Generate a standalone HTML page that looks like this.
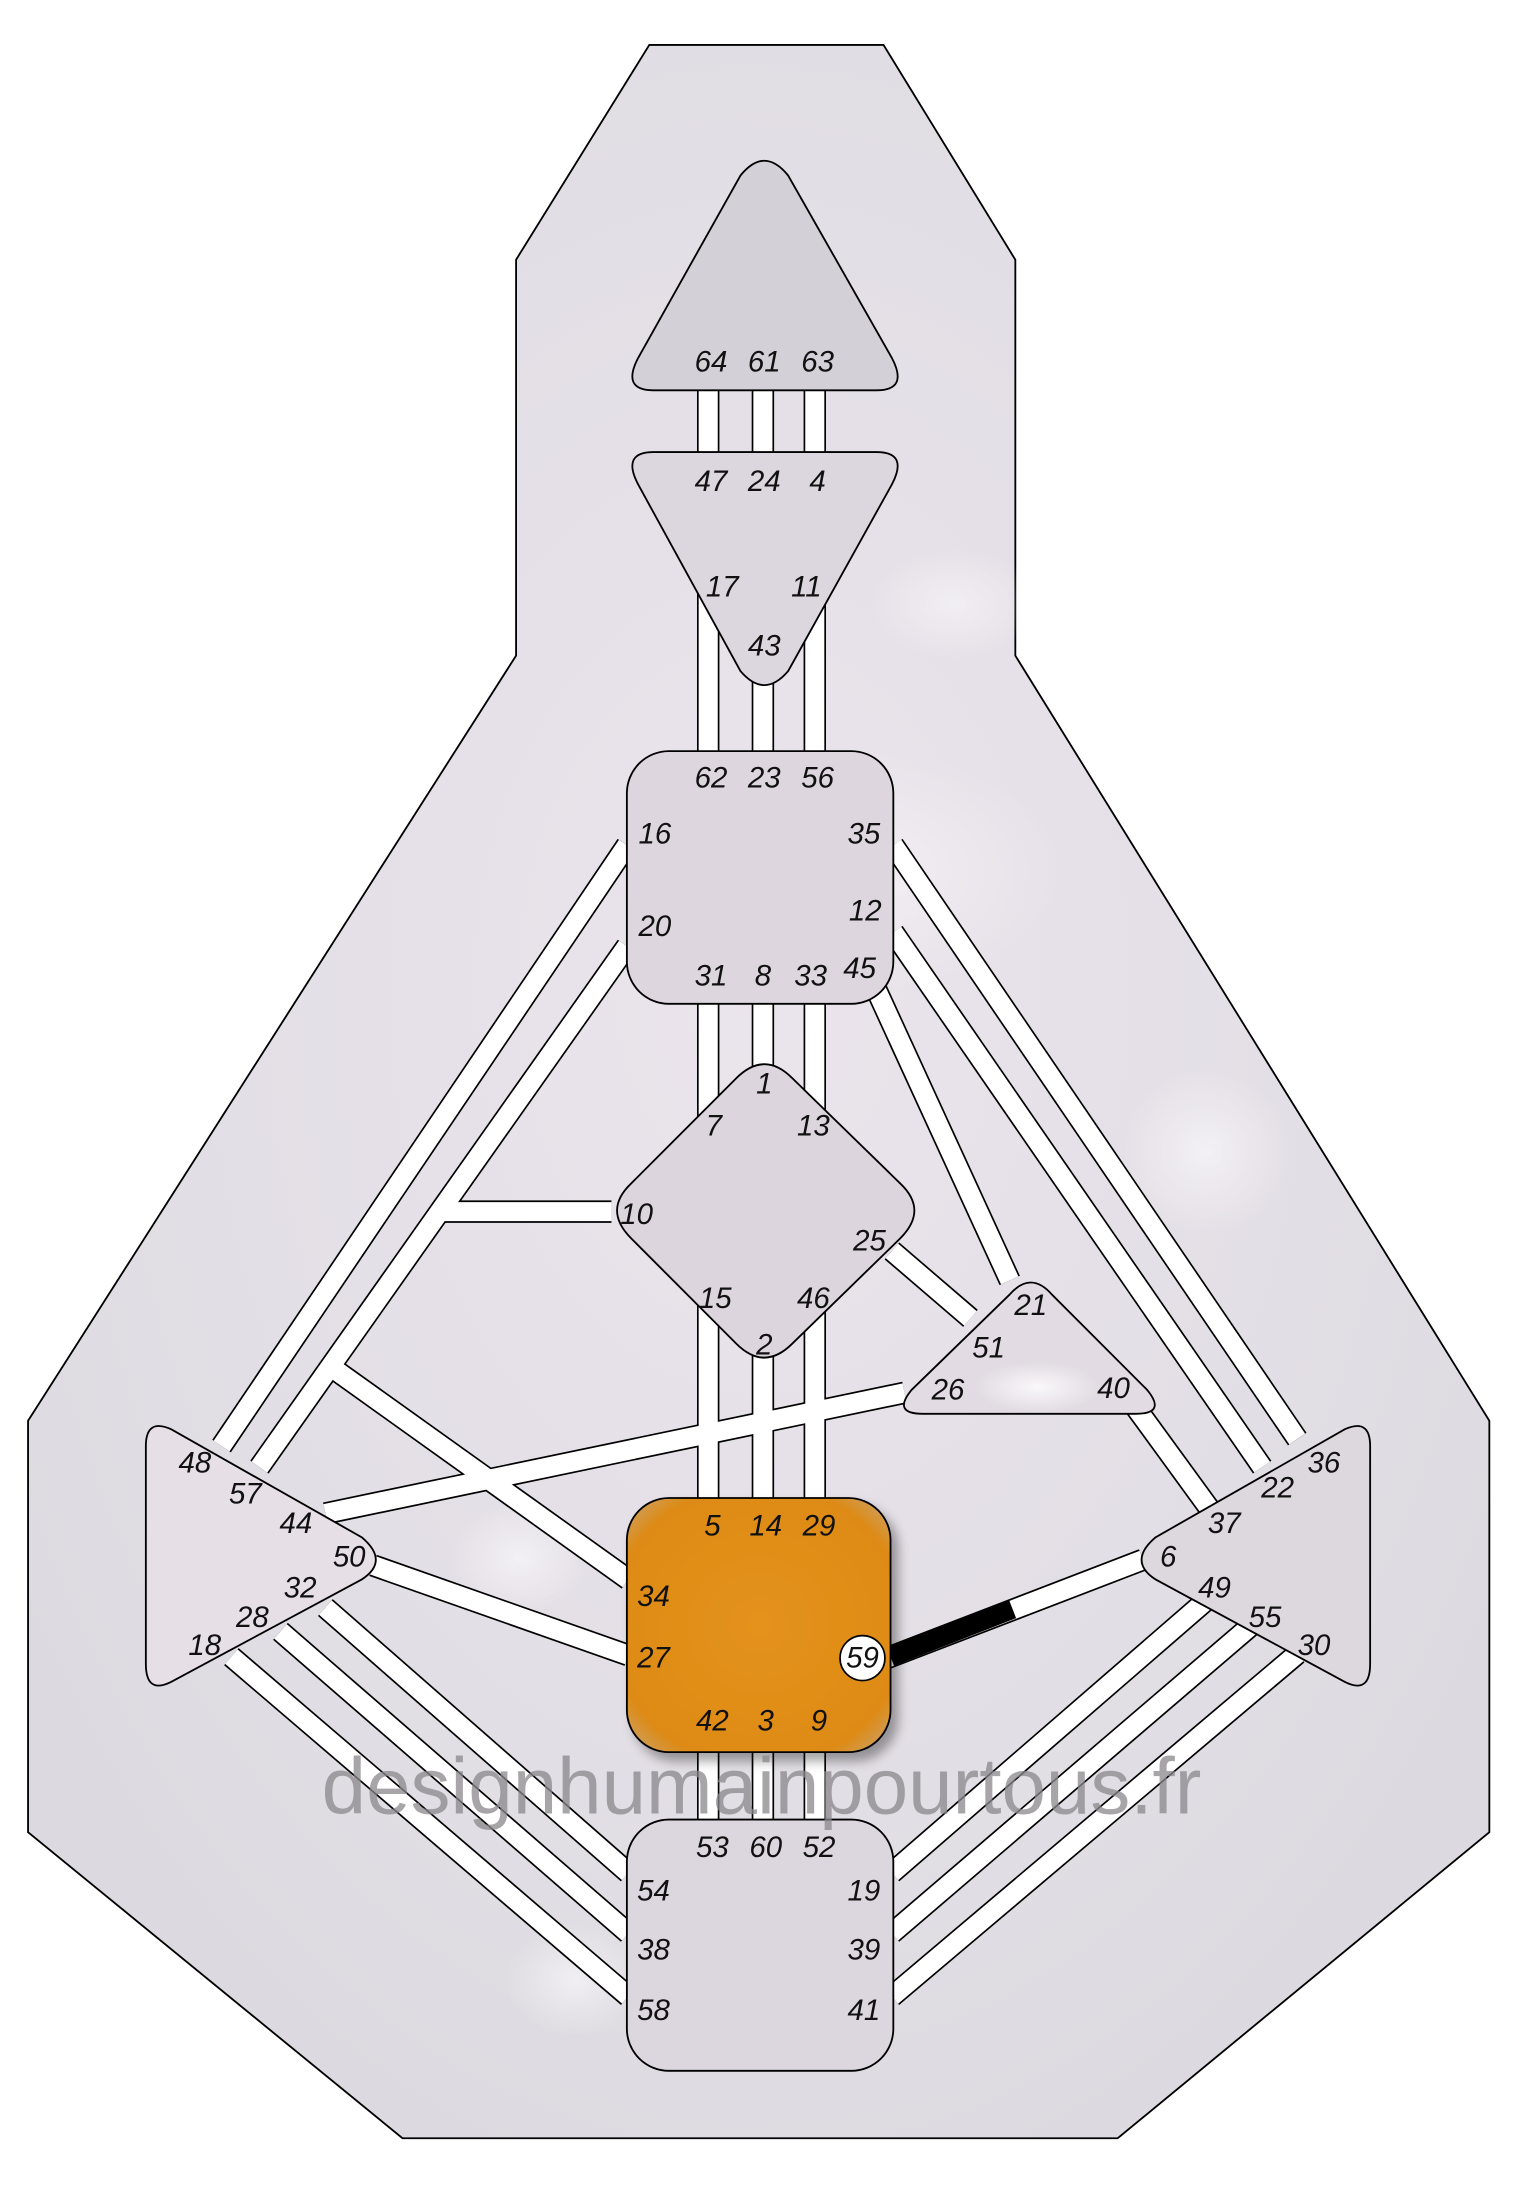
<!DOCTYPE html>
<html><head><meta charset="utf-8"><style>
html,body{margin:0;padding:0;background:#fff}
svg{display:block}
text{font-family:"Liberation Sans","DejaVu Sans",sans-serif;font-style:italic;font-size:21px;fill:#111;text-anchor:middle;dominant-baseline:central}
</style></head><body>
<svg width="1523" height="2200" viewBox="0 0 1086 1567" preserveAspectRatio="none" xmlns="http://www.w3.org/2000/svg">
<defs>
<radialGradient id="bg" cx="0.5" cy="0.45" r="0.6">
<stop offset="0" stop-color="#ebe4ec"/><stop offset="0.6" stop-color="#e3dfe6"/><stop offset="1" stop-color="#dcdae0"/></radialGradient>
<radialGradient id="glow" cx="0.5" cy="0.5" r="0.5"><stop offset="0" stop-color="#fff" stop-opacity="0.9"/><stop offset="1" stop-color="#fff" stop-opacity="0"/></radialGradient>
<radialGradient id="orng" cx="0.5" cy="0.5" r="0.7"><stop offset="0" stop-color="#e4921c"/><stop offset="0.8" stop-color="#dd8b16"/><stop offset="1" stop-color="#c9a472"/></radialGradient>
<filter id="sh" x="-20%" y="-20%" width="150%" height="150%"><feDropShadow dx="5" dy="6" stdDeviation="4" flood-color="#000" flood-opacity="0.35"/></filter>
<g id="ch" fill="none">
<line x1="505" y1="278" x2="505" y2="540"/><line x1="544" y1="278" x2="544" y2="540"/><line x1="581" y1="278" x2="581" y2="540"/>
<line x1="505" y1="710" x2="505" y2="1070"/><line x1="544" y1="710" x2="544" y2="1070"/><line x1="581" y1="710" x2="581" y2="1070"/>
<line x1="505" y1="1245" x2="505" y2="1300"/><line x1="544" y1="1245" x2="544" y2="1300"/><line x1="581" y1="1245" x2="581" y2="1300"/>
<line x1="447" y1="602" x2="158" y2="1030"/>
<line x1="447" y1="674" x2="185" y2="1045"/>
<line x1="312" y1="863" x2="436" y2="863"/>
<line x1="238" y1="975" x2="448" y2="1125"/>
<line x1="645" y1="992" x2="232" y2="1078"/>
<line x1="266" y1="1115" x2="448" y2="1179"/>
<line x1="637" y1="602" x2="925" y2="1025"/>
<line x1="637" y1="664" x2="900" y2="1045"/>
<line x1="624" y1="703" x2="720" y2="912"/>
<line x1="636" y1="891" x2="692" y2="939"/>
<line x1="808" y1="1000" x2="862" y2="1074"/>
<line x1="232" y1="1145" x2="448" y2="1334"/>
<line x1="200" y1="1162" x2="448" y2="1377"/>
<line x1="165" y1="1180" x2="448" y2="1422"/>
<line x1="860" y1="1140" x2="636" y2="1334"/>
<line x1="892" y1="1158" x2="636" y2="1377"/>
<line x1="925" y1="1178" x2="636" y2="1422"/>
<line x1="630" y1="1182" x2="815" y2="1111"/>
</g>
</defs>
<polygon points="463,32 630,32 724,185 724,467 1062,1012 1062,1305 797,1523 287,1523 20,1305 20,1012 368,467 368,185" fill="url(#bg)" stroke="#000" stroke-width="1.3"/>
<ellipse cx="600" cy="620" rx="160" ry="90" fill="url(#glow)" opacity="0.5"/>
<ellipse cx="860" cy="820" rx="60" ry="60" fill="url(#glow)" opacity="0.6"/>
<ellipse cx="370" cy="1110" rx="50" ry="40" fill="url(#glow)" opacity="0.6"/>
<ellipse cx="410" cy="1410" rx="50" ry="40" fill="url(#glow)" opacity="0.6"/>
<ellipse cx="680" cy="430" rx="60" ry="40" fill="url(#glow)" opacity="0.5"/>
<use href="#ch" stroke="#000" stroke-width="16"/>
<use href="#ch" stroke="#fff" stroke-width="13.6"/>
<line x1="635" y1="1180" x2="722" y2="1146" stroke="#000" stroke-width="14"/>
<g stroke="#000" stroke-width="1.3" fill="#dcd6de">
<path d="M528,125 Q545,104 562,125 L636,255 Q648,278 625,278 L466,278 Q443,278 455,255 Z" fill="#d3d0d7"/>
<path d="M466,322 L625,322 Q648,322 636,345 L562,478 Q545,498 528,478 L455,345 Q443,322 466,322 Z" fill="#dcd6de"/>
<rect x="447" y="535" width="190" height="180" rx="30" fill="#ddd6de"/>
<path d="M525,768 Q545,748 565,768 L642,843 Q662,862 642,882 L565,957 Q545,977 525,957 L450,882 Q430,862 450,843 Z" fill="#dcd5dd"/>
<path d="M720,922 Q735,905 750,922 L818,990 Q832,1007 810,1007 L658,1007 Q636,1007 650,990 Z" fill="#e2dbe3"/>
<rect x="447" y="1296" width="190" height="179" rx="30" fill="#dcd6de"/>
<path d="M104,1030 Q104,1010 122,1018 L258,1095 Q278,1112 258,1125 L122,1198 Q104,1207 104,1185 Z" fill="#e6dfe6"/>
<path d="M977,1030 Q977,1010 959,1018 L824,1095 Q804,1112 824,1125 L959,1198 Q977,1207 977,1185 Z" fill="#ddd7de"/>
<rect x="447" y="1067" width="188" height="181" rx="30" fill="url(#orng)" filter="url(#sh)"/>
</g>
<ellipse cx="740" cy="988" rx="45" ry="18" fill="url(#glow)" opacity="0.9"/>
<circle cx="615" cy="1181" r="16" fill="#fff" stroke="#000" stroke-width="1.2"/>
<text x="543" y="1272" style="font-style:normal;font-size:57px;fill:#8a888c;opacity:0.75">designhumainpourtous.fr</text>
<g>
<text x="507" y="258">64</text><text x="545" y="258">61</text><text x="583" y="258">63</text>
<text x="507" y="343">47</text><text x="545" y="343">24</text><text x="583" y="343">4</text>
<text x="515" y="418">17</text><text x="575" y="418">11</text><text x="545" y="460">43</text>
<text x="507" y="554">62</text><text x="545" y="554">23</text><text x="583" y="554">56</text>
<text x="467" y="594">16</text><text x="616" y="594">35</text><text x="467" y="660">20</text><text x="617" y="649">12</text>
<text x="507" y="695">31</text><text x="544" y="695">8</text><text x="578" y="695">33</text><text x="613" y="690">45</text>
<text x="545" y="772">1</text><text x="509" y="802">7</text><text x="580" y="802">13</text><text x="454" y="865">10</text>
<text x="620" y="884">25</text><text x="510" y="925">15</text><text x="580" y="925">46</text><text x="545" y="958">2</text>
<text x="735" y="930">21</text><text x="705" y="960">51</text><text x="676" y="990">26</text><text x="794" y="989">40</text>
<text x="139" y="1042">48</text><text x="175" y="1064">57</text><text x="211" y="1085">44</text><text x="249" y="1109">50</text>
<text x="214" y="1131">32</text><text x="180" y="1152">28</text><text x="146" y="1172">18</text>
<text x="944" y="1042">36</text><text x="911" y="1060">22</text><text x="873" y="1085">37</text><text x="833" y="1109">6</text>
<text x="866" y="1131">49</text><text x="902" y="1152">55</text><text x="937" y="1172">30</text>
<text x="508" y="1087">5</text><text x="546" y="1087">14</text><text x="584" y="1087">29</text>
<text x="466" y="1137">34</text><text x="466" y="1181">27</text><text x="615" y="1181">59</text>
<text x="508" y="1226">42</text><text x="546" y="1226">3</text><text x="584" y="1226">9</text>
<text x="508" y="1316">53</text><text x="546" y="1316">60</text><text x="584" y="1316">52</text>
<text x="466" y="1347">54</text><text x="466" y="1389">38</text><text x="466" y="1432">58</text>
<text x="616" y="1347">19</text><text x="616" y="1389">39</text><text x="616" y="1432">41</text>
</g>
</svg>
</body></html>
